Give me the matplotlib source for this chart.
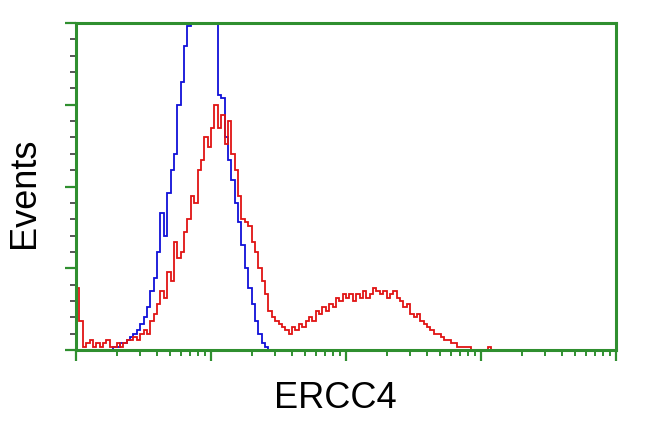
import numpy as np
import matplotlib
matplotlib.use('Agg')
import matplotlib.pyplot as plt
from matplotlib.ticker import LogLocator, MultipleLocator, NullFormatter

# histogram bins: 0.025 decade wide, 4 decades (1 .. 10^4)
bin_width_dec = 0.025
n_bins = 160

# counts as % of the axis height, one value per bin from the left
red_counts = [19, 9, 1, 2, 3, 1, 2, 1, 2, 3, 1, 1, 2, 1, 2, 3,
              3, 4, 3, 5, 6, 5, 9, 11, 14, 18, 16, 24, 21, 33, 28, 30,
              36, 40, 47, 45, 55, 58, 65, 62, 68, 75, 68, 72, 63, 70, 60, 55,
              47, 40, 39, 38, 33, 30, 25, 21, 17, 12, 10, 9, 8, 7, 6, 5,
              7, 6, 8, 7, 9, 10, 9, 12, 11, 13, 12, 14, 13, 16, 15, 17,
              16, 17, 15, 17, 16, 18, 16, 17, 19, 18, 17, 18, 16, 17, 18, 16,
              15, 13, 14, 11, 10, 11, 9, 8, 7, 6, 5, 5, 4, 3, 3, 2,
              2, 1, 1, 1, 1, 0, 0, 0, 0, 0, 1, 0]
blue_counts = [0, 0, 0, 0, 0, 0, 0, 0, 0, 0, 0, 1, 1, 2, 2, 3,
               4, 5, 6, 8, 10, 13, 18, 22, 30, 42, 35, 48, 55, 60, 75, 82,
               93, 99, 110, 120, 130, 130, 130, 130, 130, 130, 78, 77, 65, 58, 52, 45,
               39, 32, 25, 19, 14, 9, 5, 2, 1]

red_counts = red_counts + [0] * (n_bins - len(red_counts))
blue_counts = blue_counts + [0] * (n_bins - len(blue_counts))

edges = 10 ** (np.arange(n_bins + 1) * bin_width_dec)

green = '#2f8f2f'

fig = plt.figure(figsize=(6.5, 4.32), dpi=100)
ax = fig.add_axes([76 / 650, 1 - 350 / 432, 540 / 650, 327 / 432])

ax.stairs(blue_counts, edges, color='#1010d8', linewidth=1.3, baseline=None)
ax.stairs(red_counts, edges, color='#e01414', linewidth=1.3, baseline=None)

ax.set_xscale('log')
ax.set_xlim(1, 1e4)
ax.set_ylim(0, 100)

for sp in ax.spines.values():
    sp.set_color(green)
    sp.set_linewidth(2.2)

ax.xaxis.set_major_locator(LogLocator(base=10, numticks=10))
ax.xaxis.set_minor_locator(LogLocator(base=10, subs=np.arange(2, 10), numticks=20))
ax.xaxis.set_major_formatter(NullFormatter())
ax.xaxis.set_minor_formatter(NullFormatter())
ax.yaxis.set_major_locator(MultipleLocator(25))
ax.yaxis.set_minor_locator(MultipleLocator(5))
ax.yaxis.set_major_formatter(NullFormatter())

ax.tick_params(which='major', direction='out', length=8, width=1.6, color=green)
ax.tick_params(which='minor', direction='out', length=4, width=1.4, color=green)
ax.tick_params(axis='y', which='minor', color='#555555', length=4)

fig.text(335 / 650, 1 - 408 / 432, 'ERCC4', ha='center', va='baseline',
         fontsize=26, family='Liberation Sans')
fig.text(24.5 / 650, 1 - 193 / 432, 'Events', ha='center', va='center',
         rotation=90, fontsize=26, family='Liberation Sans')

fig.savefig('out.png', dpi=100)
